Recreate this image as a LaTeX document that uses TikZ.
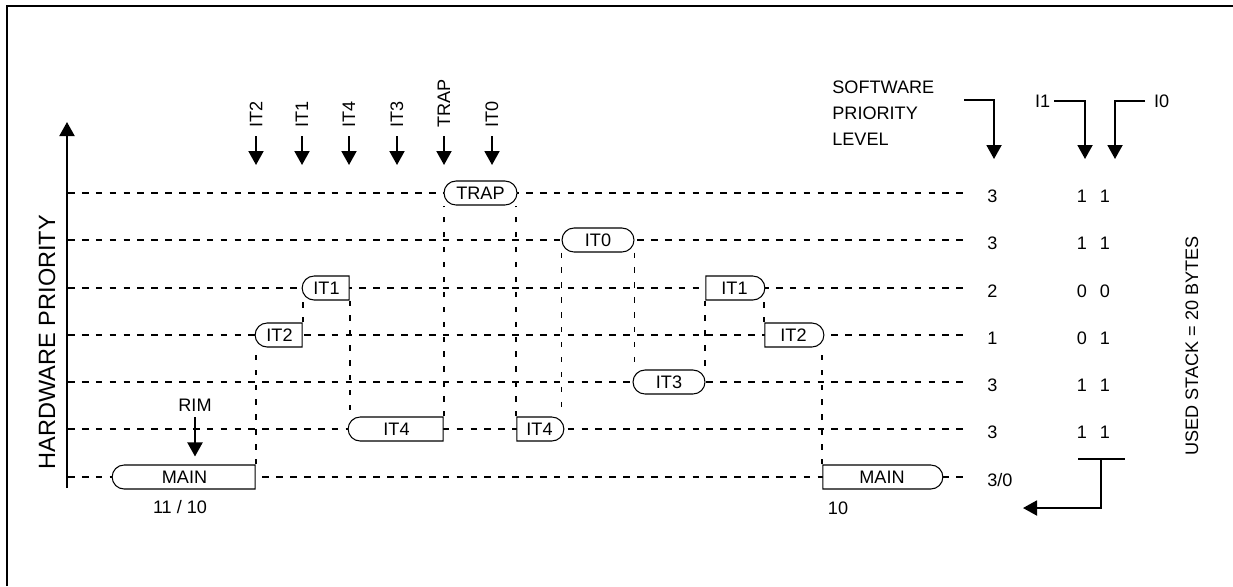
\documentclass[tikz,border=0pt]{standalone}
\usepackage{fontspec}
\setmainfont{Liberation Sans}
\usetikzlibrary{arrows.meta,shapes.misc,calc}
\tikzset{
  nest/.style={font=\fontsize{10.3}{12.4}\selectfont, text=black},
  nestbox/.style={rounded rectangle, draw=black, fill=white, line width=0.6pt,
    minimum height=0.48cm, inner sep=0pt},
  nestboxl/.style={nestbox, rounded rectangle east arc=none},
  nestboxr/.style={nestbox, rounded rectangle west arc=none},
  nestlvl/.style={line width=1.1pt, dash pattern=on 3.8pt off 4.1pt, shorten >=0.44cm},
  nesthop/.style={line width=1.1pt, dash pattern=on 3pt off 5.5pt},
  nestarr/.style={-{Triangle[length=0.28cm,width=0.3cm]}, line width=1.1pt},
  nestirq/.style={rotate=90, anchor=west, inner sep=0.16cm},
  nestnum/.style={inner sep=0pt},
}

\begin{document}
\begin{tikzpicture}[nest, x=0.02cm, y=-0.02cm]
  \useasboundingbox (0,0) rectangle (1233,586);
  \draw[line width=1.2pt] (7,586) -- (7,6) -- (1233,6);

  \coordinate (axb) at (67,488);
  \coordinate (axt) at (67,122);
  \draw[nestarr] (axb) -- (axt);
  \node[rotate=90, font=\fontsize{13.4}{16}\selectfont] (hwp) at (47,342) {HARDWARE PRIORITY};

  \node[nestnum, anchor=west] (sp1) at (987,196) {3};
  \node[nestnum] (ia1) at (1082,196) {1};
  \node[nestnum] (ib1) at (1105,196) {1};
  \node[nestnum, anchor=west] (sp2) at (987,243) {3};
  \node[nestnum] (ia2) at (1082,243) {1};
  \node[nestnum] (ib2) at (1105,243) {1};
  \node[nestnum, anchor=west] (sp3) at (987,291) {2};
  \node[nestnum] (ia3) at (1082,291) {0};
  \node[nestnum] (ib3) at (1105,291) {0};
  \node[nestnum, anchor=west] (sp4) at (987,338) {1};
  \node[nestnum] (ia4) at (1082,338) {0};
  \node[nestnum] (ib4) at (1105,338) {1};
  \node[nestnum, anchor=west] (sp5) at (987,385) {3};
  \node[nestnum] (ia5) at (1082,385) {1};
  \node[nestnum] (ib5) at (1105,385) {1};
  \node[nestnum, anchor=west] (sp6) at (987,432) {3};
  \node[nestnum] (ia6) at (1082,432) {1};
  \node[nestnum] (ib6) at (1105,432) {1};
  \node[nestnum, anchor=west] (sp7) at (987,480) {3/0};

  \coordinate (hw1) at (68,193);
  \coordinate (hw2) at (68,240);
  \coordinate (hw3) at (68,288);
  \coordinate (hw4) at (68,335);
  \coordinate (hw5) at (68,382);
  \coordinate (hw6) at (68,429);
  \coordinate (hw7) at (68,477);
  \draw[nestlvl] (hw1) -- (hw1 -| sp1.west);
  \draw[nestlvl] (hw2) -- (hw2 -| sp2.west);
  \draw[nestlvl] (hw3) -- (hw3 -| sp3.west);
  \draw[nestlvl] (hw4) -- (hw4 -| sp4.west);
  \draw[nestlvl] (hw5) -- (hw5 -| sp5.west);
  \draw[nestlvl] (hw6) -- (hw6 -| sp6.west);
  \draw[nestlvl] (hw7) -- (hw7 -| sp7.west);

  \node[nestboxl, minimum width=2.86cm] (main1) at (184.5,477) {MAIN};
  \node[nestboxl, minimum width=0.94cm] (it2a) at (279.5,335) {IT2};
  \node[nestboxl, minimum width=0.94cm] (it1a) at (326.5,288) {IT1};
  \node[nestboxl, minimum width=1.9cm] (it4a) at (396.5,429) {IT4};
  \node[nestbox, minimum width=1.46cm] (trap) at (480.5,193) {TRAP};
  \node[nestboxr, minimum width=0.94cm] (it4b) at (539.5,429) {IT4};
  \node[nestbox, minimum width=1.44cm] (it0) at (598,240) {IT0};
  \node[nestbox, minimum width=1.44cm] (it3) at (669,382) {IT3};
  \node[nestboxr, minimum width=1.18cm] (it1b) at (734.5,288) {IT1};
  \node[nestboxr, minimum width=1.18cm] (it2b) at (793.5,335) {IT2};
  \node[nestboxr, minimum width=2.4cm] (main2) at (882,477) {MAIN};

  \draw[nesthop] (main1.east |- main1.north) -- (main1.east |- it2a.south);
  \draw[nesthop] (it2a.east |- it2a.north) -- (it2a.east |- it1a.south);
  \draw[nesthop] (it1a.east |- it1a.south) -- (it1a.east |- it4a.north);
  \draw[nesthop] (it4a.east |- it4a.north) -- (it4a.east |- trap.south);
  \draw[nesthop] (it4b.west |- it4b.north) -- (it4b.west |- trap.south);
  \draw[nesthop] (it0.west |- it0.south) -- (it0.west |- it4b.north);
  \draw[nesthop] (it0.east |- it0.south) -- (it0.east |- it3.north);
  \draw[nesthop] (it1b.west |- it1b.south) -- (it1b.west |- it3.north);
  \draw[nesthop] (it2b.west |- it2b.north) -- (it2b.west |- it1b.south);
  \draw[nesthop] (main2.west |- main2.north) -- (main2.west |- it2b.south);

  \node[nestirq] (qit2) at (256,136) {IT2};
  \node[nestirq] (qit1) at (302,136) {IT1};
  \node[nestirq] (qit4) at (349,136) {IT4};
  \node[nestirq] (qit3) at (397,136) {IT3};
  \node[nestirq] (qtrap) at (444,136) {TRAP};
  \node[nestirq] (qit0) at (492,136) {IT0};
  \draw[nestarr] (qit2.west) -- ++(0,29);
  \draw[nestarr] (qit1.west) -- ++(0,29);
  \draw[nestarr] (qit4.west) -- ++(0,29);
  \draw[nestarr] (qit3.west) -- ++(0,29);
  \draw[nestarr] (qtrap.west) -- ++(0,29);
  \draw[nestarr] (qit0.west) -- ++(0,29);

  \node[align=left, anchor=west, inner sep=0pt, font=\fontsize{10.3}{14.7}\selectfont]
    (swl) at (832,113) {SOFTWARE\\PRIORITY\\LEVEL};
  \coordinate (swin) at (964,100);
  \coordinate (swtip) at (994,159);
  \draw[nestarr] (swin) -| (swtip);
  \node[anchor=east, inner sep=2pt] (i1l) at (1054,101) {I1};
  \coordinate (i1tip) at (1085,159);
  \draw[nestarr] (i1l.east) -| (i1tip);
  \node[anchor=west, inner sep=5pt] (i0l) at (1145,101) {I0};
  \coordinate (i0tip) at (1115,159);
  \draw[nestarr] (i0l.west) -| (i0tip);

  \node (rim) at (195,405) {RIM};
  \draw[nestarr, shorten >=0.16cm] (rim) -- (rim |- main1.north);
  \node (m1val) at (180,507) {11 / 10};
  \node (m2val) at (838,508) {10};

  \coordinate (barl) at (1078,459);
  \coordinate (barr) at (1125,459);
  \coordinate (barm) at (1101,459);
  \coordinate (rettip) at (1023,508);
  \draw[line width=1.1pt] (barl) -- (barr);
  \draw[nestarr] (barm) |- (rettip);

  \node[rotate=90] (stk) at (1192,346) {USED STACK = 20 BYTES};
\end{tikzpicture}
\end{document}
